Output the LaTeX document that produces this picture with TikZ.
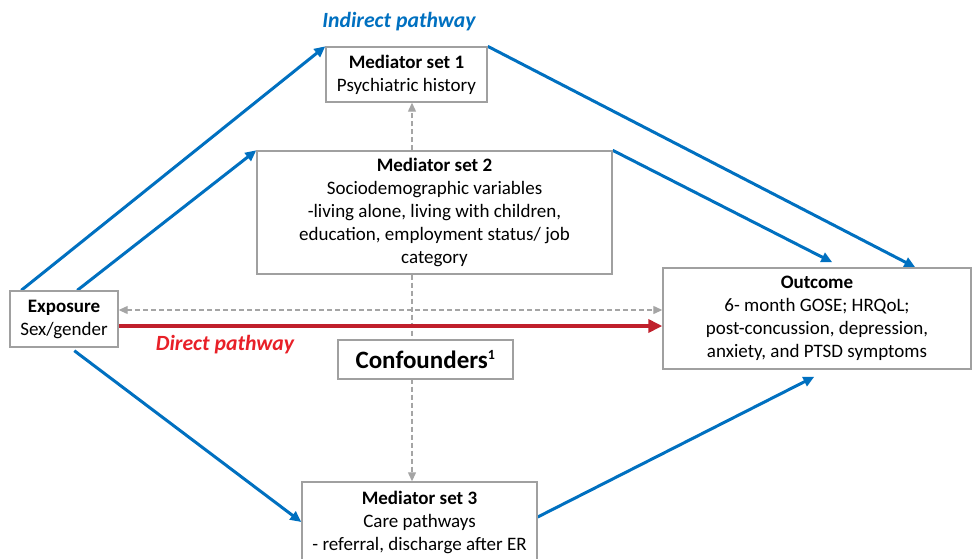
\documentclass[tikz,border=0pt]{standalone}
\usepackage{fontspec}
\setmainfont{Carlito}
\usetikzlibrary{arrows.meta,backgrounds}
\definecolor{boxgray}{RGB}{160,160,160}
\definecolor{pathblue}{RGB}{0,112,192}
\definecolor{pathred}{RGB}{192,32,44}
\definecolor{labelred}{RGB}{232,32,40}
\definecolor{dashgray}{RGB}{165,165,165}
\tikzset{
  box/.style={draw=boxgray, line width=1.4pt, fill=white, align=center, inner sep=0pt,
    font=\fontsize{19}{23}\selectfont},
  bluearrow/.style={draw=pathblue, line width=3pt, -{Triangle[length=11pt,width=10pt]}},
  redarrow/.style={draw=pathred, line width=4pt, -{Triangle[length=14pt,width=13pt]}},
  grayarrow/.style={draw=dashgray, line width=1.2pt, dash pattern=on 5pt off 3pt, -{Triangle[length=9pt,width=8pt]}},
  pathlabel/.style={font=\fontsize{21.7}{26}\selectfont\bfseries\itshape}
}
\begin{document}
\begin{tikzpicture}[x=1pt,y=-1pt]
\useasboundingbox (0,0) rectangle (972,558);
\clip (0,0) rectangle (972,558);
\node[box, minimum width=161pt, minimum height=55pt] (ms1) at (406.5,74.5)
  {\textbf{Mediator set 1}\\Psychiatric history};
\node[box, minimum width=355pt, minimum height=123pt] (ms2) at (434.5,212.5)
  {\textbf{Mediator set 2}\\Sociodemographic variables\\-living alone, living with children,\\education, employment status/ job\\category};
\node[box, minimum width=108pt, minimum height=56pt] (exp) at (64,319)
  {\textbf{Exposure}\\Sex/gender};
\node[box, minimum width=308pt, minimum height=101pt] (out) at (817,318.5)
  {\textbf{Outcome}\\6- month GOSE; HRQoL;\\post-concussion, depression,\\anxiety, and PTSD symptoms};
\node[box, minimum width=175pt, minimum height=39pt, font=\fontsize{25}{28}\selectfont\bfseries] (conf) at (425.5,359.5)
  {Confounders\textsuperscript{\fontsize{14}{14}\selectfont 1}};
\node[box, minimum width=235pt, minimum height=80pt] (ms3) at (419.5,522)
  {\textbf{Mediator set 3}\\Care pathways\\- referral, discharge after ER};
\node[pathlabel, text=pathblue] (indl) at (399,22) {Indirect pathway};
\node[pathlabel, text=labelred] (dirl) at (225,345) {Direct pathway};
\coordinate (dl) at (0,310);
\coordinate (rl) at (0,326);
\coordinate (vx) at (412,0);
\begin{scope}[on background layer]
  \draw[grayarrow] (ms2.north -| vx) -- (ms1.south -| vx);
  \draw[grayarrow] (ms2.south -| vx) -- (ms3.north -| vx);
  \draw[grayarrow, {Triangle[length=9pt,width=8pt]}-{Triangle[length=9pt,width=8pt]}] (exp.east |- dl) -- (out.west |- dl);
  \draw[redarrow] (exp.east |- rl) -- (out.west |- rl);
  \draw[bluearrow] ([xshift=12pt]exp.north west) -- (ms1.north west);
  \draw[bluearrow] ([xshift=68pt]exp.north west) -- (ms2.north west);
  \draw[bluearrow] (ms1.north east) -- ([xshift=253pt]out.north west);
  \draw[bluearrow] (ms2.north east) -- ([xshift=170pt,yshift=5pt]out.north west);
  \draw[bluearrow] ([xshift=65pt,yshift=-3pt]exp.south west) -- (ms3.west);
  \draw[bluearrow] ([yshift=5pt]ms3.east) -- ([xshift=152pt,yshift=-7pt]out.south west);
\end{scope}
\end{tikzpicture}
\end{document}
